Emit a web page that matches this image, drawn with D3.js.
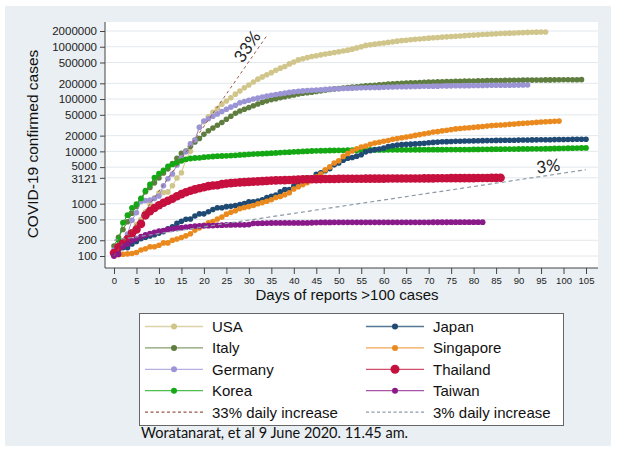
<!DOCTYPE html>
<html><head><meta charset="utf-8">
<script src="https://cdn.jsdelivr.net/npm/d3@7/dist/d3.min.js"></script>
<style>body{margin:0;background:#fff}</style>
</head><body>
<svg id="c" width="620" height="455"></svg>
<script>
// ---------- DATA (day index = days since >100 cases) ----------
const usa=[105,120,160,220,280,400,500,700,1000,1300,
1600,1630,1680,2200,3100,3900,7000,10000,16500,29000,
37000,46000,56000,66000,80000,92000,106000,124000,142000,164000,
186000,212000,240000,265000,290000,320000,355000,390000,420000,470000,
510000,560000,590000,620000,650000,675000,700000,725000,750000,775000,
800000,830000,860000,900000,950000,1000000,1060000,1090000,1120000,1150000,
1180000,1210000,1240000,1280000,1310000,1335000,1360000,1385000,1410000,1435000,
1460000,1485000,1505000,1525000,1545000,1565000,1585000,1605000,1630000,1650000,
1670000,1690000,1710000,1730000,1750000,1770000,1790000,1805000,1820000,1835000,
1850000,1865000,1880000,1890000,1900000,1910000,1920000];
const italy=[155,229,322,453,655,888,1128,
1694,2036,2502,3089,3858,4636,5883,7375,9172,10149,12462,15113,17660,21157,24747,27980,31506,35713,41035,47021,53578,59138,63927,69176,74386,80589,86498,92472,97689,101739,105792,
110574,115242,119827,124632,128948,132547,135586,139422,143626,147577,152271,156363,159516,162488,165155,168941,172434,175925,178972,181228,183957,187327,189973,192994,195351,197675,199414,201505,203591,205463,
207428,209328,210717,211938,213013,214457,215858,217185,218268,219070,219814,221216,222104,223096,223885,224760,225435,225886,226699,227364,228006,228658,229327,229858,230158,230555,231139,231732,232248,232664,232997,
233197,233515,233836,234013,234531,234801];
const germany=[130,159,196,262,482,670,1100,1150,1180,1250,1400,2200,3000,3700,5500,7500,9800,14000,16500,29000,
38000,42000,47000,52000,58000,64000,70000,76000,85000,90000,95000,100000,104000,109000,114000,118000,122000,126000,130000,134000,138000,
141397,143342,145184,147065,148291,150648,153129,154999,156513,157770,158758,159912,161539,163009,164077,164967,165664,166152,167007,168162,
169430,170588,171324,171879,172576,173171,174098,174478,175233,175752,176369,176551,177778,178473,179021,179710,179986,180328,180600,181200,
181524,182196,182922,183189,183410,183594,183879,184121,184472,184924,185450,185750];
const korea=[104,204,433,602,833,977,1261,1766,2337,3150,
3736,4335,5186,5621,6088,6593,7041,7314,7478,7513,7755,7869,7979,8086,8162,8236,8320,8413,8565,8652,8799,8897,8961,9037,9137,9241,9332,9478,9583,9661,9786,
9887,9976,10062,10156,10237,10284,10331,10384,10423,10450,10480,10512,10537,10564,10591,10613,10635,10653,10661,10674,10683,10694,10702,10708,10718,10728,10738,10752,10761,10765,
10774,10780,10793,10801,10804,10806,10810,10822,10840,10874,10909,10936,10962,10991,11018,11037,11050,11065,11078,11110,11122,11142,11165,11190,11206,11225,11265,11344,11402,11441,11468,
11503,11541,11590,11629];
const japan=[105,132,144,144,170,189,214,228,241,
256,274,293,331,360,420,461,502,511,581,639,639,701,773,839,839,878,889,924,963,1007,1086,1086,1128,1193,1307,1387,1468,1693,1866,1866,
2178,2495,2617,3139,3139,3654,3906,4257,4667,5530,6005,6748,7370,7645,8100,8626,9787,10296,10797,11135,11512,12368,12829,13231,13441,13614,13736,13895,14088,14305,
14571,14839,15057,15231,15354,15463,15547,15649,15747,15798,15874,15968,16024,16079,16120,16203,16237,16285,16305,16367,16424,16513,16550,16581,16623,16651,16683,16719,16804,16851,16884,
16911,16986,17018,17064,17103];
const singapore=[102,
106,108,110,112,117,130,138,150,150,160,178,178,200,212,226,243,266,313,345,385,432,455,509,558,631,683,732,802,844,879,926,
1000,1049,1114,1189,1309,1375,1481,1623,1910,2108,2299,2532,2918,3252,3699,4427,5050,5992,6588,8014,9125,10141,11178,12075,12693,13624,14423,14951,15641,16169,
17101,17548,18205,18778,19410,20198,20939,21707,22460,23336,23822,24671,25346,26098,26891,27356,28038,28343,28794,29364,29812,30426,31068,31616,31960,32343,32876,33249,33860,34366,34884,
35292,35836,36405,36922,37183,37527,37910];
const thailand=[114,147,177,212,272,322,411,599,721,827,934,1045,1136,1245,1388,1524,1651,
1771,1875,1978,2067,2169,2220,2258,2369,2423,2473,2518,2551,2579,2613,2643,2672,2700,2733,2765,2792,2811,2826,2839,2854,2907,2922,2931,2938,2947,2954,
2960,2966,2969,2987,2988,2989,2992,3000,3004,3009,3015,3017,3017,3018,3025,3025,3028,3031,3033,3034,3037,3040,3042,3042,3045,3054,3065,3071,3076,3077,3081,
3082,3083,3084,3101,3102,3104,3112,3119,3121];
const taiwan=[100,108,153,169,195,215,235,252,267,283,298,306,322,
329,339,348,355,363,373,376,379,380,382,385,388,393,393,395,395,395,398,420,422,425,426,427,428,429,429,429,429,429,429,
429,432,436,438,438,439,440,440,440,440,440,440,440,440,440,440,440,440,440,441,441,441,441,441,441,441,441,441,442,442,442,
442,443,443,443,443,443,443,443,443];

const countryNames=["USA","Italy","Germany","Korea","Japan","Singapore","Thailand","Taiwan"];
const yTickValues=[100,200,500,1000,3121,5000,10000,20000,50000,100000,200000,500000,1000000,2000000];
const xTickValues=[0,5,10,15,20,25,30,35,40,45,50,55,60,65,70,75,80,85,90,95,100,105];
// reference growth lines: [startDay, endDay, startValue, dailyRate]
const ref33=[0,34.2,100,0.33];
const ref3=[0,105,200,0.03];
const refLabels=["33% daily increase","3% daily increase"];
const creditText="Woratanarat, et al 9 June 2020. 11.45 am.";

// ---------- STYLE ----------
const colors={USA:"#d0c68b",Italy:"#5f7d3f",Germany:"#9c95d5",Korea:"#14a814",
  Japan:"#1f4a73",Singapore:"#ea8a1e",Thailand:"#c6103e",Taiwan:"#8a1a8a"};
const radius={USA:2.8,Italy:2.8,Germany:2.8,Korea:2.9,Japan:2.8,Singapore:2.8,Thailand:4.3,Taiwan:2.9};
const values={USA:usa,Italy:italy,Germany:germany,Korea:korea,Japan:japan,Singapore:singapore,Thailand:thailand,Taiwan:taiwan};
const c33="#9c5848", c3="#8d9aa6";

const svg=d3.select("#c");
svg.append("rect").attr("x",5).attr("y",6).attr("width",606).attr("height",440).attr("fill","#e9eff2");
svg.append("rect").attr("x",105).attr("y",22).attr("width",493).attr("height",246).attr("fill","#fff");

const x=d3.scaleLinear().domain([0,105]).range([114,586]);
const y=d3.scaleLog().domain([100,2000000]).range([256,31]);

// grid
svg.append("g").selectAll("line").data(yTickValues).join("line")
  .attr("x1",106).attr("x2",598).attr("y1",d=>y(d)).attr("y2",d=>y(d))
  .attr("stroke","#e2e8ec").attr("stroke-width",1);

// axes
const yAxis=d3.axisLeft(y).tickValues(yTickValues).tickFormat(d3.format("d")).tickSize(5).tickPadding(3);
const gy=svg.append("g").attr("transform","translate(105,0)").call(yAxis);
gy.select(".domain").attr("d","M0,22V268").attr("stroke","#444");
gy.selectAll(".tick line").attr("stroke","#444");
gy.selectAll("text").attr("font-family","Liberation Sans, Arial, sans-serif").attr("font-size",11.5).attr("fill","#222")
  .attr("dy",d=>d===3121?"0.42em":(d===5000?"0.25em":"0.32em"));

const xAxis=d3.axisBottom(x).tickValues(xTickValues).tickSize(6).tickPadding(3);
const gx=svg.append("g").attr("transform","translate(0,268)").call(xAxis);
gx.select(".domain").attr("d","M105,0H598").attr("stroke","#444");
gx.selectAll(".tick line").attr("stroke","#444");
gx.selectAll("text").attr("font-family","Liberation Sans Narrow, Liberation Sans, Arial, sans-serif").attr("font-size",9.5).attr("fill","#222");

svg.append("text").attr("x",347).attr("y",300).attr("text-anchor","middle")
  .attr("font-family","Liberation Sans, Arial, sans-serif").attr("font-size",15).attr("fill","#111")
  .text("Days of reports >100 cases");
svg.append("text").attr("transform","translate(38,144) rotate(-90)").attr("text-anchor","middle")
  .attr("font-family","Liberation Sans, Arial, sans-serif").attr("font-size",15.5).attr("fill","#111")
  .text("COVID-19 confirmed cases");

// series
const line=d3.line().x((v,i)=>x(i)).y(v=>y(v));
countryNames.forEach(n=>{
  const g=svg.append("g");
  g.append("path").datum(values[n]).attr("d",line).attr("fill","none")
    .attr("stroke",colors[n]).attr("stroke-width",1);
  g.selectAll("circle").data(values[n]).join("circle")
    .attr("cx",(v,i)=>x(i)).attr("cy",v=>y(v)).attr("r",radius[n])
    .attr("fill",colors[n]);
});

// reference lines
function refPts(r){return [[r[0],r[2]*Math.pow(1+r[3],r[0])],[r[1],r[2]*Math.pow(1+r[3],r[1])]];}
const refLine=d3.line().x(d=>x(d[0])).y(d=>y(d[1]));
svg.append("path").datum(refPts(ref33)).attr("d",refLine).attr("fill","none")
  .attr("stroke",c33).attr("stroke-width",1).attr("stroke-dasharray","3,3");
svg.append("path").datum(refPts(ref3)).attr("d",refLine).attr("fill","none")
  .attr("stroke",c3).attr("stroke-width",1.2).attr("stroke-dasharray","4,3");

svg.append("text").attr("transform","translate(252,50) rotate(-56)").attr("text-anchor","middle")
  .attr("font-family","Lato, Open Sans, sans-serif").attr("font-size",17).attr("fill","#222").text("33%");
svg.append("text").attr("transform","translate(549,172) rotate(-8)").attr("text-anchor","middle")
  .attr("font-family","Lato, Open Sans, sans-serif").attr("font-size",17).attr("fill","#222").text("3%");

// legend
const leg=svg.append("g");
leg.append("rect").attr("x",139.5).attr("y",313.5).attr("width",424).attr("height",112)
  .attr("fill","#fff").attr("stroke","#666").attr("stroke-width",1);
const legItems=[
  {n:"USA",col:0,row:0},{n:"Italy",col:0,row:1},{n:"Germany",col:0,row:2},{n:"Korea",col:0,row:3},
  {n:"Japan",col:1,row:0},{n:"Singapore",col:1,row:1},{n:"Thailand",col:1,row:2},{n:"Taiwan",col:1,row:3}];
const colX=[145,366], rowY=r=>326.5+r*21.4;
legItems.forEach(it=>{
  const x0=colX[it.col], yy=rowY(it.row);
  leg.append("line").attr("x1",x0).attr("x2",x0+58).attr("y1",yy).attr("y2",yy)
    .attr("stroke",colors[it.n]).attr("stroke-width",1.3).attr("stroke-opacity",0.75);
  leg.append("circle").attr("cx",x0+29).attr("cy",yy).attr("r",it.n==="Thailand"?4.5:3).attr("fill",colors[it.n]);
  leg.append("text").attr("x",x0+67).attr("y",yy).attr("dy","0.36em")
    .attr("font-family","Liberation Sans, Arial, sans-serif").attr("font-size",15).attr("fill","#111").text(it.n);
});
[[c33,refLabels[0],0],[c3,refLabels[1],1]].forEach(([c,t,col])=>{
  const x0=colX[col], yy=rowY(4);
  leg.append("line").attr("x1",x0).attr("x2",x0+58).attr("y1",yy).attr("y2",yy)
    .attr("stroke",c).attr("stroke-width",1.2).attr("stroke-dasharray","3,2.5");
  leg.append("text").attr("x",x0+67).attr("y",yy).attr("dy","0.36em")
    .attr("font-family","Liberation Sans, Arial, sans-serif").attr("font-size",15).attr("fill","#111").text(t);
});
svg.append("text").attr("x",141).attr("y",438).attr("font-family","Lato, Open Sans, sans-serif")
  .attr("font-size",14.5).attr("fill","#111").text(creditText);
</script>
</body></html>
